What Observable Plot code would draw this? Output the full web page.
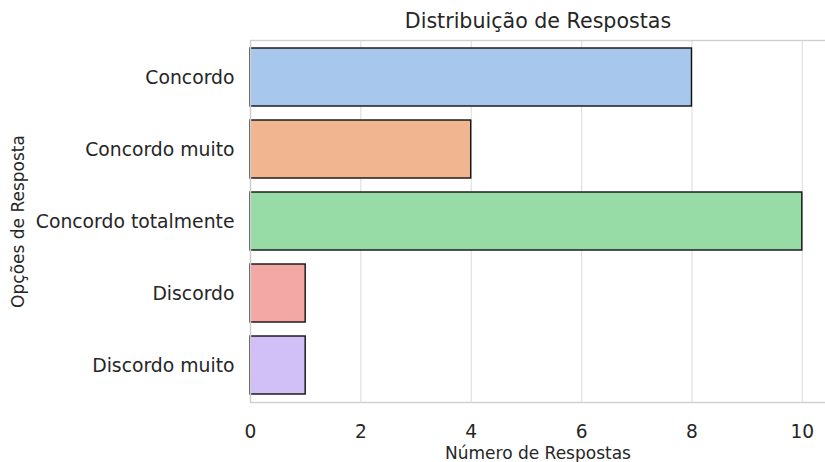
<!DOCTYPE html>
<html><head><meta charset="utf-8">
<script src="https://cdn.jsdelivr.net/npm/d3@7"></script>
<script src="https://cdn.jsdelivr.net/npm/@observablehq/plot@0.6"></script>
<style>
html,body{margin:0;padding:0;background:#fff;overflow:hidden;}
svg{font-family:"DejaVu Sans",sans-serif;display:block;}
</style></head><body><div id="chart"></div>
<script>
const categories = ["Concordo","Concordo muito","Concordo totalmente","Discordo","Discordo muito"];
const counts = [8,4,10,1,1];
const colors = ["#a7c8ec","#f1b68f","#97dca6","#f4a8a6","#d1c0f8"];
const xTicks = [0,2,4,6,8,10];
const title = "Distribuição de Respostas";
const xLabel = "Número de Respostas";
const yLabel = "Opções de Resposta";

const data = categories.map((c,i)=>({cat:c, n:counts[i], color:colors[i]}));
const ink = "#262626";
const chart = Plot.plot({
  width: 825, height: 462,
  marginLeft: 250, marginRight: 0, marginTop: 40, marginBottom: 60,
  style: {fontFamily:"DejaVu Sans", color: ink, background:"#fff"},
  x: {domain:[0,10.42]},
  y: {domain: categories, paddingInner: 0.2, paddingOuter: 0.1},
  marks: [
    Plot.ruleX(xTicks, {stroke:"#e0e0e0", strokeWidth:1.2}),
    Plot.barX(data, {x:"n", y:"cat", fill:"color", stroke:"#111", strokeWidth:1.4}),
    Plot.frame({stroke:"#cfcfcf", strokeWidth:1.4, insetRight:-4}),
    Plot.axisX({ticks:xTicks, tickSize:0, tickPadding:22, fontSize:18.6, label:null, tickFormat:d=>String(d)}),
    Plot.axisY({tickSize:0, tickPadding:16, fontSize:18.8, label:null}),
    Plot.text([title], {frameAnchor:"top", lineAnchor:"middle", dy:-19, fontSize:20.6, fill:ink}),
    Plot.text([xLabel], {frameAnchor:"bottom", dy:56, fontSize:17, fill:ink}),
    Plot.text([yLabel], {frameAnchor:"left", textAnchor:"middle", dx:-232, rotate:-90, fontSize:17, fill:ink})
  ]
});
document.getElementById("chart").appendChild(chart);
</script></body></html>
